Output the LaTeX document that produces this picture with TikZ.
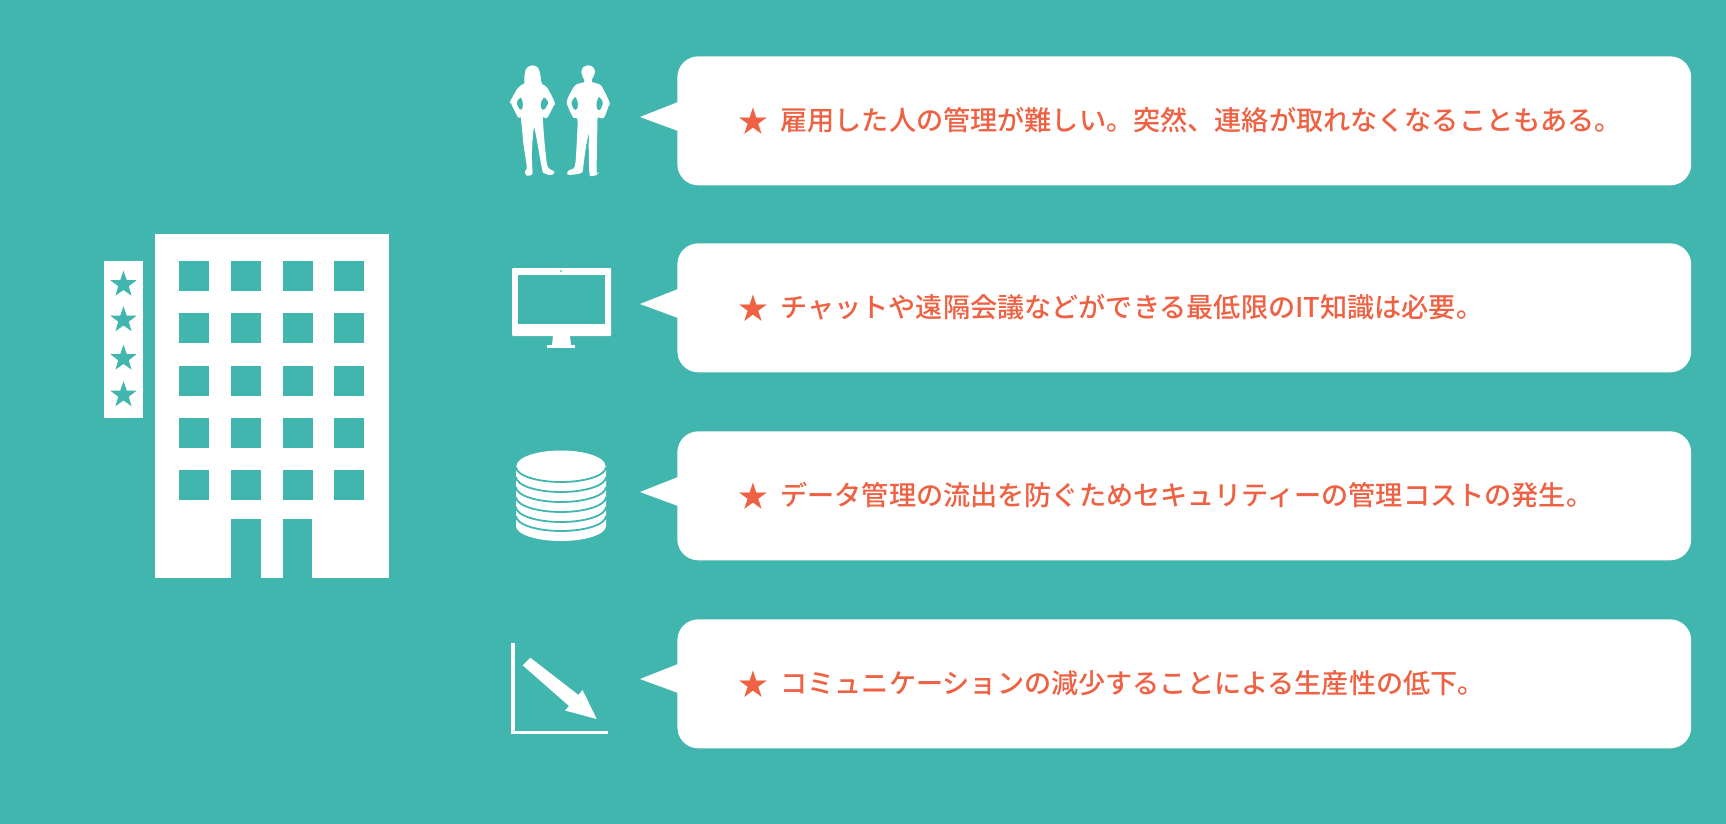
\documentclass[tikz,border=0pt]{standalone}
\usepackage{fontspec}
\usepackage{xcolor}
\usetikzlibrary{shapes.geometric}
\newfontfamily\jpfont{Noto Sans CJK JP Medium}
\newcommand{\bigstar}{{\fontsize{17pt}{18pt}\selectfont\raisebox{-0.14em}{★}}}
\definecolor{bgteal}{HTML}{41B6AE}
\definecolor{textred}{HTML}{EE6142}
\tikzset{
	bubble/.style={fill=white, rounded corners=0.42cm, anchor=north west, minimum width=20.28cm, minimum height=2.58cm, inner xsep=1.22cm, inner ysep=0pt, text width=17.84cm, align=left, font=\jpfont\fontsize{15.45pt}{18pt}\selectfont, text=textred},
	signstar/.style={star, star points=5, star point ratio=2.5, fill=bgteal, inner sep=0pt, minimum size=0.55cm},
	icon/.style={fill=white},
	person/.style={fill=white, draw=white, line width=0.025cm}
}
\begin{document}
\begin{tikzpicture}[x=0.02cm, y=-0.02cm]
	\fill[bgteal] (0,0) rectangle (1726,824);
	\useasboundingbox (0,0) rectangle (1726,824);

	% building
	\fill[icon] (155,234) rectangle (389,578);
	\foreach \wx in {179,231,283,334} {
		\foreach \wy in {261,313,366,418,470} {
			\fill[bgteal] (\wx,\wy) rectangle +(30,30);
		}
	}
	\fill[bgteal] (231,519) rectangle (261,578);
	\fill[bgteal] (283,519) rectangle (312,578);
	\fill[icon] (104,261) rectangle (143,418);
	\foreach \sy [count=\i] in {284.5,320,358.5,395} {
		\node[signstar] (star\i) at (123.5,\sy) {};
	}

	% speech bubbles
	\foreach \ytop/\ytip/\txt [count=\i] in {
		56/117/雇用した人の管理が難しい。突然、連絡が取れなくなることもある。,
		243/304/チャットや遠隔会議などができる最低限のIT知識は必要。,
		431/492/データ管理の流出を防ぐためセキュリティーの管理コストの発生。,
		619/679/コミュニケーションの減少することによる生産性の低下。} {
		\node[bubble] (bub\i) at (677,\ytop) {\bigstar\hspace{0.45em}\raisebox{-0.08em}{\txt}};
		\fill[icon] (640,\ytip) -- (678,\ytip-15) -- (678,\ytip+14) -- cycle;
	}

	% woman
	\begin{scope}[shift={(505,60)}, xscale=0.3333, yscale=0.3333]
		\fill[person] plot[smooth cycle, tension=0.55] coordinates {(82,18) (97,24) (104,42) (106,62) (110,74) (125,84) (147,127) (144,137) (125,172) (113,168) (113,200) (120,280) (127,322) (146,336) (138,343) (118,338) (112,322) (88,198) (79,270) (80,325) (80,342) (66,345) (62,335) (67,320) (57,250) (49,172) (40,170) (20,130) (18,124) (38,88) (48,78) (60,70) (60,50) (66,26)};
		\fill[bgteal, rounded corners=0.03cm] (118,110) -- (131,128) -- (118,150) -- (109,149) -- (107,128) -- cycle;
		\fill[bgteal, rounded corners=0.03cm] (47,110) -- (34,128) -- (44,150) -- (52,149) -- (54,128) -- cycle;
	\end{scope}

	% man
	\begin{scope}[shift={(560,60)}, xscale=0.3333, yscale=0.3333]
		\fill[person] plot[smooth cycle, tension=0.55] coordinates {(85,18) (98,23) (103,36) (98,50) (94,58) (96,68) (118,75) (128,88) (147,128) (144,137) (130,172) (112,172) (110,215) (108,330) (110,342) (96,346) (90,338) (88,260) (88,207) (76,260) (68,320) (65,336) (48,341) (24,342) (28,332) (46,320) (52,250) (54,178) (42,172) (30,150) (22,128) (25,115) (38,90) (50,75) (74,68) (74,58) (69,48) (66,36) (71,23)};
		\fill[bgteal, rounded corners=0.03cm] (117,108) -- (130,128) -- (120,152) -- (111,149) -- (109,128) -- cycle;
		\fill[bgteal, rounded corners=0.03cm] (46,108) -- (33,128) -- (42,150) -- (52,149) -- (54,128) -- cycle;
	\end{scope}

	% monitor
	\fill[icon, rounded corners=0.02cm] (512,268) rectangle (611,336);
	\fill[bgteal] (518,275) rectangle (605,324);
	\fill[bgteal] (561,271) circle (1);
	\fill[icon] (553,336) -- (570,336) -- (571,345) -- (552,345) -- cycle;
	\fill[icon] (547,345) rectangle (575,348);

	% coins
	\fill[icon] (606,526) arc[start angle=0, end angle=180, x radius=45, y radius=15] -- (516,466) -- (606,466) -- cycle;
	\fill[icon] (561,466) ellipse (44.5 and 15.5);
	\foreach \cy in {467,477,487,497,507,516} {
		\draw[bgteal, line width=0.036cm] (606,\cy) arc[start angle=0, end angle=180, x radius=45, y radius=15];
	}

	% chart
	\fill[icon] (511,643) rectangle (515,734);
	\fill[icon] (511,731) rectangle (608,734);
	\fill[icon] (522.7,665.3) -- (530.3,657.7) -- (578.5,695) -- (582.5,690) -- (596.7,719) -- (565,710.5) -- (569,706) -- cycle;
\end{tikzpicture}
\end{document}
